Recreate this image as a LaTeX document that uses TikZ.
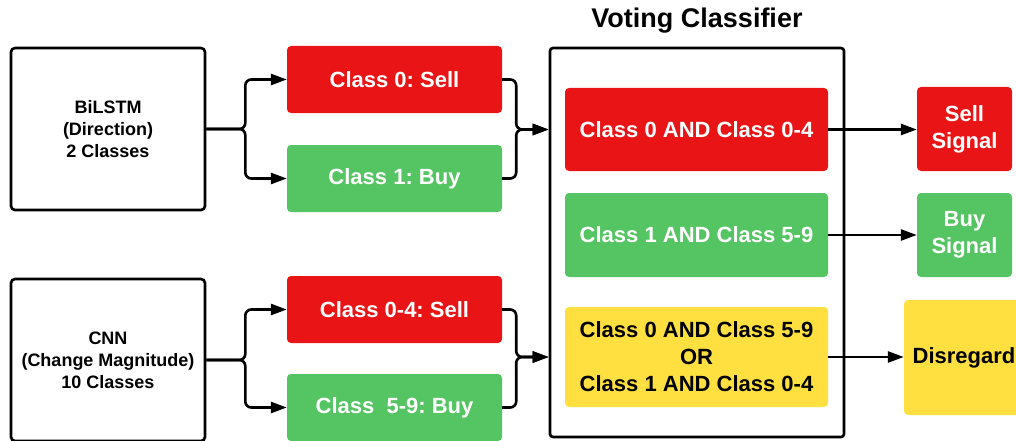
\documentclass[tikz,border=0pt]{standalone}
\usepackage{fontspec}
\setmainfont{Liberation Sans}
\usetikzlibrary{arrows.meta,positioning}
\frenchspacing

\definecolor{sellred}{HTML}{E81416}
\definecolor{buygreen}{HTML}{55C463}
\definecolor{holdyellow}{HTML}{FFE040}

\tikzset{
  boxbase/.style={rectangle, rounded corners=4pt, align=center, inner sep=0pt,
    font=\bfseries\fontsize{22}{27}\selectfont},
  modelbox/.style={boxbase, draw, line width=2.6pt, minimum width=194pt, minimum height=162pt,
    font=\bfseries\fontsize{18}{22}\selectfont},
  classbox/.style={minimum width=215pt, minimum height=67pt},
  votebox/.style={minimum width=263pt},
  signalbox/.style={minimum width=95pt, minimum height=84pt},
  redbox/.style={boxbase, fill=sellred, text=white},
  greenbox/.style={boxbase, fill=buygreen, text=white},
  yellowbox/.style={boxbase, fill=holdyellow, text=black},
  conn/.style={line width=2.6pt, rounded corners=6pt, -{Triangle[length=16pt,width=11pt]}}
}

\begin{document}
\begin{tikzpicture}[x=1pt,y=1pt]
            \clip (0,0) rectangle (1016,440);

            % Models
            \node[modelbox] (bilstm) at (108,311) {BiLSTM\\(Direction)\\2 Classes};
            \node[modelbox] (cnn) at (108,80) {CNN\\(Change Magnitude)\\10 Classes};

            % Model outputs
            \node[redbox, classbox] (c0sell) at (394.5,360.5) {Class 0: Sell};
            \node[greenbox, classbox] (c1buy) at (394.5,261.5) {Class 1: Buy};
            \node[redbox, classbox] (c04sell) at (394.5,130.5) {Class 0-4: Sell};
            \node[greenbox, classbox] (c59buy) at (394.5,32.5) {Class~~5-9: Buy};

            % Voting classifier
            \node[draw, line width=2.6pt, rounded corners=3pt, minimum width=294pt, minimum height=389pt] (voting) at (697,197.5) {};
            \node[font=\bfseries\fontsize{27}{32}\selectfont, inner sep=0pt] (votetitle) at (697,419) {Voting Classifier};

            \node[redbox, votebox, minimum height=83pt] (vsell) at (696.5,310.5) {Class 0 AND Class 0-4};
            \node[greenbox, votebox, minimum height=84pt] (vbuy) at (696.5,205) {Class 1 AND Class 5-9};
            \node[yellowbox, votebox, minimum height=100pt] (vhold) at (696.5,83) {Class 0 AND Class 5-9\\OR\\Class 1 AND Class 0-4};

            % Signals
            \node[redbox, signalbox] (sellsig) at (964.5,311) {Sell\\Signal};
            \node[greenbox, signalbox] (buysig) at (964.5,205) {Buy\\Signal};
            \node[yellowbox, minimum width=120pt, minimum height=115pt] (disregard) at (964,82.5) {Disregard};

            % Forks from the models
            \draw[conn] (bilstm.east) -- ++(39,0) |- (c0sell.west);
            \draw[conn] (bilstm.east) -- ++(39,0) |- (c1buy.west);
            \draw[conn] (cnn.east) -- ++(39,0) |- (c04sell.west);
            \draw[conn] (cnn.east) -- ++(39,0) |- (c59buy.west);

            % Into the voting classifier
            \draw[conn] (c0sell.east) -- ++(14,0) |- (voting.west |- vsell.east);
            \draw[conn] (c1buy.east) -- ++(14,0) |- (voting.west |- vsell.east);
            \draw[conn] (c04sell.east) -- ++(14,0) |- (voting.west |- vhold.east);
            \draw[conn] (c59buy.east) -- ++(14,0) |- (voting.west |- vhold.east);

            % Out to the signals
            \draw[conn] (vsell.east) -- (vsell.east -| sellsig.west);
            \draw[conn] (vbuy.east) -- (vbuy.east -| buysig.west);
            \draw[conn] (vhold.east) -- (vhold.east -| disregard.west);

\end{tikzpicture}
\end{document}
